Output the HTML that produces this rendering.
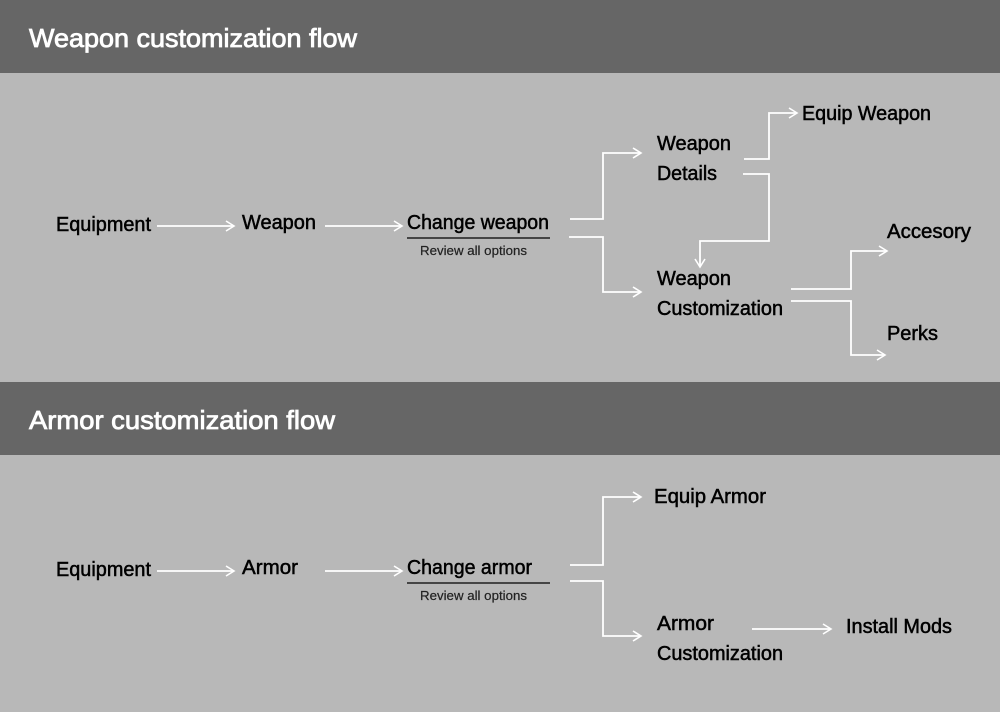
<!DOCTYPE html>
<html><head><meta charset="utf-8"><style>
html,body{margin:0;padding:0;background:#b8b8b8;}
svg{display:block;}
text{font-family:"Liberation Sans",Arial,sans-serif;}
.n{font-size:20px;fill:#000;stroke:#000;stroke-width:0.5;}
.t{font-size:26px;fill:#fff;stroke:#fff;stroke-width:0.8;}
.s{font-size:13px;fill:#222;stroke:#222;stroke-width:0.2;}
.l{fill:none;stroke:#fff;stroke-width:1.8;}
</style></head><body>
<svg width="1000" height="712" viewBox="0 0 1000 712" xmlns="http://www.w3.org/2000/svg">
<defs><marker id="a" markerWidth="12" markerHeight="12" refX="10" refY="6" orient="auto" markerUnits="userSpaceOnUse"><path d="M2,1 L10,6 L2,11" fill="none" stroke="#fff" stroke-width="1.6"/></marker></defs>
<rect x="0" y="0" width="1000" height="73" fill="#666"/>
<rect x="0" y="73" width="1000" height="309" fill="#b8b8b8"/>
<rect x="0" y="382" width="1000" height="73" fill="#666"/>
<rect x="0" y="455" width="1000" height="257" fill="#b8b8b8"/>
<text class="t" x="29" y="47" textLength="328" lengthAdjust="spacingAndGlyphs">Weapon customization flow</text>
<text class="t" x="29" y="429" textLength="306" lengthAdjust="spacingAndGlyphs">Armor customization flow</text>

<!-- weapon -->
<text class="n" x="56" y="231" textLength="95" lengthAdjust="spacingAndGlyphs">Equipment</text>
<path class="l" d="M157,226 H234" marker-end="url(#a)"/>
<text class="n" x="242" y="229" textLength="74" lengthAdjust="spacingAndGlyphs">Weapon</text>
<path class="l" d="M325,226 H402" marker-end="url(#a)"/>
<text class="n" x="407" y="229" textLength="142" lengthAdjust="spacingAndGlyphs">Change weapon</text>
<line x1="407" y1="238" x2="550" y2="238" stroke="#000" stroke-width="1.3"/>
<text class="s" x="420" y="255" textLength="107" lengthAdjust="spacingAndGlyphs">Review all options</text>
<path class="l" d="M570,219 H603 V153 H641" marker-end="url(#a)"/>
<path class="l" d="M569,237 H603 V292 H641" marker-end="url(#a)"/>
<text class="n" x="657" y="150" textLength="74" lengthAdjust="spacingAndGlyphs">Weapon</text>
<text class="n" x="657" y="180" textLength="60" lengthAdjust="spacingAndGlyphs">Details</text>
<path class="l" d="M744,159 H769 V113 H797" marker-end="url(#a)"/>
<text class="n" x="802" y="120" textLength="129" lengthAdjust="spacingAndGlyphs">Equip Weapon</text>
<path class="l" d="M743,174 H769 V241 H700 V267" marker-end="url(#a)"/>
<text class="n" x="657" y="285" textLength="74" lengthAdjust="spacingAndGlyphs">Weapon</text>
<text class="n" x="657" y="315" textLength="126" lengthAdjust="spacingAndGlyphs">Customization</text>
<path class="l" d="M791,289 H851 V251 H887" marker-end="url(#a)"/>
<text class="n" x="887" y="238" textLength="84" lengthAdjust="spacingAndGlyphs">Accesory</text>
<path class="l" d="M791,301 H851 V355 H885" marker-end="url(#a)"/>
<text class="n" x="887" y="340" textLength="51" lengthAdjust="spacingAndGlyphs">Perks</text>

<!-- armor -->
<text class="n" x="56" y="576" textLength="95" lengthAdjust="spacingAndGlyphs">Equipment</text>
<path class="l" d="M157,571 H234" marker-end="url(#a)"/>
<text class="n" x="242" y="574" textLength="56" lengthAdjust="spacingAndGlyphs">Armor</text>
<path class="l" d="M325,571 H402" marker-end="url(#a)"/>
<text class="n" x="407" y="574" textLength="125" lengthAdjust="spacingAndGlyphs">Change armor</text>
<line x1="407" y1="583" x2="550" y2="583" stroke="#000" stroke-width="1.3"/>
<text class="s" x="420" y="600" textLength="107" lengthAdjust="spacingAndGlyphs">Review all options</text>
<path class="l" d="M570,565 H603 V497 H641" marker-end="url(#a)"/>
<path class="l" d="M570,581 H603 V636 H641" marker-end="url(#a)"/>
<text class="n" x="654" y="503" textLength="112" lengthAdjust="spacingAndGlyphs">Equip Armor</text>
<text class="n" x="657" y="630" textLength="57" lengthAdjust="spacingAndGlyphs">Armor</text>
<text class="n" x="657" y="660" textLength="126" lengthAdjust="spacingAndGlyphs">Customization</text>
<path class="l" d="M752,629 H831" marker-end="url(#a)"/>
<text class="n" x="846" y="633" textLength="106" lengthAdjust="spacingAndGlyphs">Install Mods</text>
</svg>
</body></html>
